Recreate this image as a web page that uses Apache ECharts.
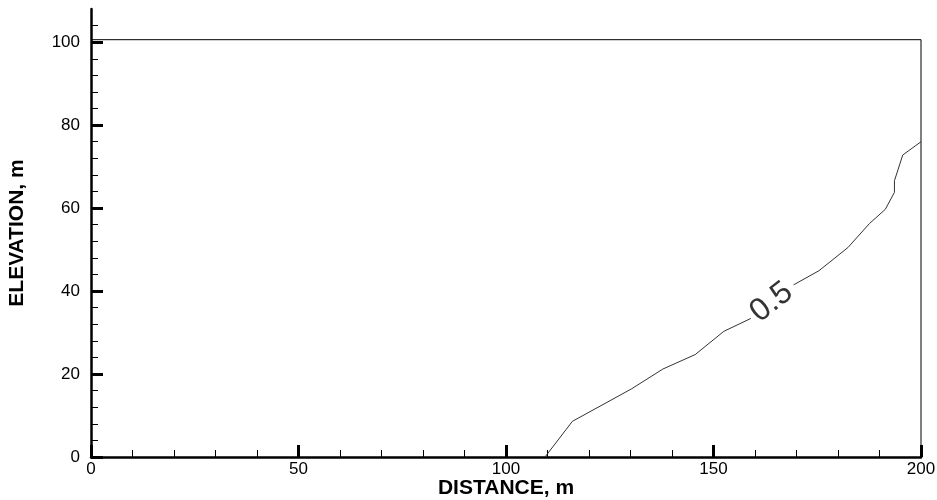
<!DOCTYPE html>
<html>
<head>
<meta charset="utf-8">
<script src="https://cdn.jsdelivr.net/npm/echarts@6/dist/echarts.min.js"></script>
<style>
  html, body { margin: 0; padding: 0; background: #fff; }
  #chart { width: 937px; height: 500px; }
</style>
</head>
<body>
<div id="chart"></div>
<script>
'use strict';

// contour 0.5, split where the label sits
const curveLower = [
    [109.4, 0], [116.0, 8.6], [130.2, 16.4], [137.8, 21.2],
    [145.6, 24.7], [152.5, 30.3], [159.0, 33.4]
];
const curveUpper = [
    [169.3, 41.5], [175.4, 44.9], [182.4, 50.5], [187.6, 56.3],
    [191.4, 59.7], [193.6, 63.8], [193.6, 66.6], [195.6, 72.8], [200, 76.0]
];
const boundary = [[0, 100.6], [200, 100.6], [200, 0]];
const contourLabel = [[164.0, 37.3, '0.5']];

const yMajor = [0, 20, 40, 60, 80, 100];
const yMinor = [4, 8, 12, 16, 24, 28, 32, 36, 44, 48, 52, 56, 64, 68, 72, 76, 84, 88, 92, 96, 104];

const FONT = 'Liberation Sans, Arial, sans-serif';
const ink = '#000';

const chart = echarts.init(document.getElementById('chart'), null, {renderer: 'canvas'});

chart.setOption({
    animation: false,
    backgroundColor: '#fff',
    grid: {left: 91, right: 16, top: 9, bottom: 43, outerBoundsMode: 'none', containLabel: false},
    xAxis: {
        type: 'value',
        min: 0, max: 200, interval: 50,
        name: 'DISTANCE, m',
        nameLocation: 'middle',
        nameGap: 21,
        nameMoveOverlap: false,
        nameTextStyle: {fontFamily: FONT, fontSize: 21, fontWeight: 'bold', color: ink},
        axisLine: {show: true, lineStyle: {color: ink, width: 2.5}},
        axisTick: {show: true, inside: true, length: 12, lineStyle: {color: ink, width: 3}},
        minorTick: {show: true, splitNumber: 5, length: 7, lineStyle: {color: ink, width: 1}},
        axisLabel: {fontFamily: FONT, fontSize: 17, color: ink, margin: 4},
        splitLine: {show: false}
    },
    yAxis: [{
        type: 'value',
        min: 0, max: 108,
        position: 'left',
        name: 'ELEVATION, m',
        nameLocation: 'middle',
        nameGap: 63,
        nameMoveOverlap: false,
        nameTextStyle: {fontFamily: FONT, fontSize: 21, fontWeight: 'bold', color: ink},
        axisLine: {show: true, lineStyle: {color: ink, width: 2.5}},
        axisTick: {show: true, inside: true, length: 12, customValues: yMajor, lineStyle: {color: ink, width: 3}},
        axisLabel: {fontFamily: FONT, fontSize: 17, color: ink, margin: 11, customValues: yMajor},
        splitLine: {show: false}
    }, {
        type: 'value',
        min: 0, max: 108,
        position: 'left',
        offset: 0,
        axisLine: {show: false},
        axisTick: {show: true, inside: true, length: 7, customValues: yMinor, lineStyle: {color: ink, width: 1}},
        axisLabel: {show: false},
        splitLine: {show: false}
    }],
    series: [{
        type: 'line',
        data: boundary,
        symbol: 'none',
        lineStyle: {color: ink, width: 1},
        silent: true
    }, {
        type: 'line',
        data: curveLower,
        symbol: 'none',
        lineStyle: {color: '#333', width: 1},
        silent: true
    }, {
        type: 'line',
        data: curveUpper,
        symbol: 'none',
        lineStyle: {color: '#333', width: 1},
        silent: true
    }, {
        type: 'scatter',
        data: contourLabel,
        symbolSize: 0,
        silent: true,
        label: {
            show: true,
            position: 'inside',
            formatter: p => p.data[2],
            rotate: 38,
            fontFamily: FONT,
            fontSize: 32,
            color: ink
        }
    }]
});
</script>
</body>
</html>
